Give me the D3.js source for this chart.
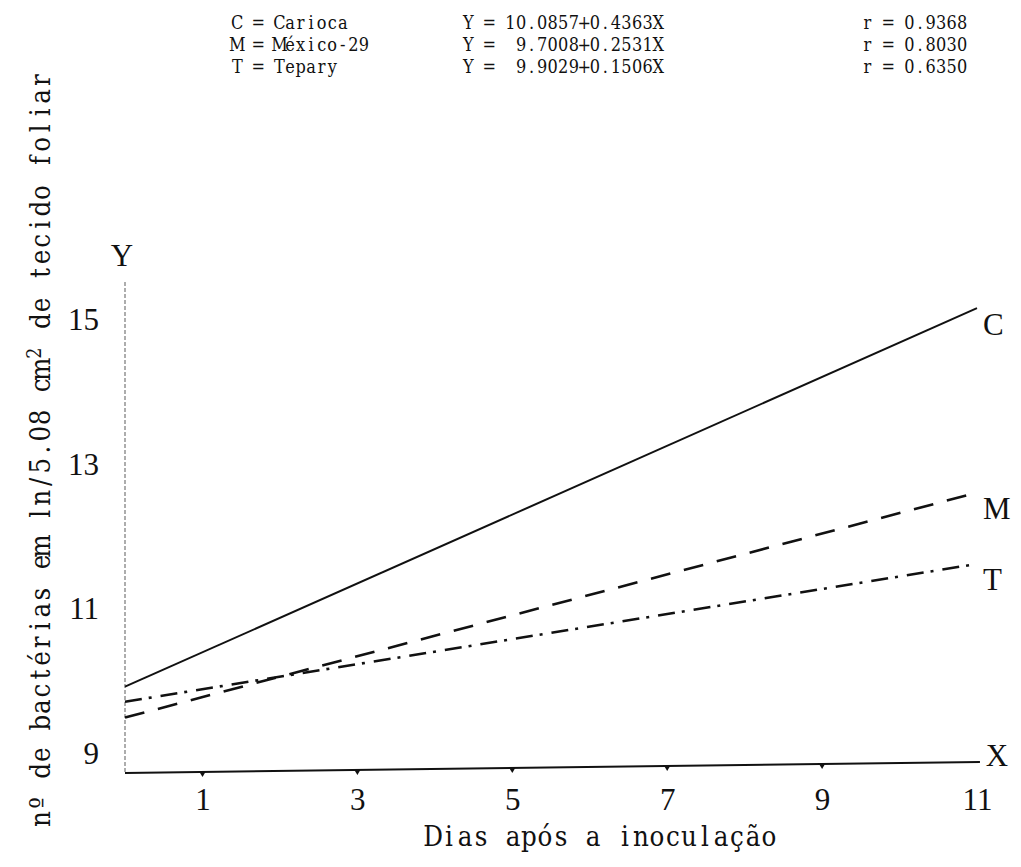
<!DOCTYPE html>
<html><head><meta charset="utf-8">
<script src="https://cdn.jsdelivr.net/npm/d3@7"></script>
<style>
html,body{margin:0;padding:0;background:#fff;}
svg{display:block;}
text{white-space:pre;}
.tw{font-family:"DejaVu Serif",serif;fill:#111;}
.sf{font-family:"Liberation Serif",serif;fill:#111;}
</style>
</head><body>
<svg id="chart" width="1021" height="867"></svg>
<script>
// ---- data ----
const days = [0, 11];
const carioca = [10.09, 14.87];
const mexico = [9.70, 12.54];
const tepary = [9.90, 11.64];
const seriesCodes = ["C", "M", "T"];
const seriesNames = ["Carioca", "México-29", "Tepary"];
const equations = ["Y = 10.0857+0.4363X", "Y =  9.7008+0.2531X", "Y =  9.9029+0.1506X"];
const rValues = ["r = 0.9368", "r = 0.8030", "r = 0.6350"];
const xTicks = [1, 3, 5, 7, 9, 11];
const yTicks = [9, 11, 13, 15];
const xTitle = "Dias após a inoculação";
const yTitleA = "nº de bactérias em ln/5.08 cm";
const yTitleSup = "2";
const yTitleB = " de tecido foliar";

const svg = d3.select("#chart");
const x = d3.scaleLinear().domain([0, 11]).range([125, 977]);
const y = d3.scaleLinear().domain([9, 15.2]).range([773, 282]);
// typed tick labels sit slightly off the drawn grid
const yLab = d3.scaleLinear().domain([9, 15]).range([753, 319]);

const series = [
  {code: "C", values: carioca, dash: null, width: 2},
  {code: "M", values: mexico, dash: "20,14", width: 2.6},
  {code: "T", values: tepary, dash: "17,7,3,9", width: 2.6}
];

// typewriter-like text: every character centred in a fixed-pitch cell
function typeText(parent, x0, y0, size, sx, rotate) {
  return parent.append("text").attr("class", "tw").attr("font-size", size)
    .attr("text-anchor", "middle")
    .attr("transform", `translate(${x0}, ${y0})${rotate ? " rotate(" + rotate + ")" : ""} scale(${sx}, 1)`);
}
function cellXs(str, startCell, cell, sx) {
  return Array.from(str).map((c, i) => ((startCell + i + 0.5) * cell / sx).toFixed(2)).join(" ");
}

// ---- y axis (faint dotted) ----
svg.append("line")
  .attr("x1", x(0)).attr("x2", x(0))
  .attr("y1", y(15.2)).attr("y2", y(9))
  .attr("stroke", "#777").attr("stroke-width", 1.2)
  .attr("stroke-dasharray", "4,2");

// ---- x axis (slightly tilted hand-drawn line) ----
const xAxisG = svg.append("g")
  .attr("transform", `rotate(-0.74, ${x(0)}, ${y(9)})`);
xAxisG.append("line")
  .attr("x1", x(0)).attr("x2", x(11) + 3)
  .attr("y1", y(9)).attr("y2", y(9))
  .attr("stroke", "#111").attr("stroke-width", 2);
xAxisG.selectAll("path.tk").data(xTicks.slice(0, 5)).join("path")
  .attr("class", "tk")
  .attr("d", d => `M${x(d) - 3},${y(9)} L${x(d) + 3},${y(9)} L${x(d)},${y(9) + 5} Z`)
  .attr("fill", "#111");

// x tick labels
svg.append("g").attr("transform", `translate(0, ${y(9) + 37})`)
  .call(d3.axisBottom(x).tickValues(xTicks).tickSize(0).tickPadding(0).tickFormat(d3.format("d")))
  .call(g => g.select(".domain").remove())
  .call(g => g.selectAll("text").attr("class", "sf").attr("font-size", 31).attr("dy", 0).attr("fill", "#111"));

// y tick labels
svg.append("g").attr("transform", "translate(99, 0)")
  .call(d3.axisLeft(yLab).tickValues(yTicks).tickSize(0).tickPadding(0).tickFormat(d3.format("d")))
  .call(g => g.select(".domain").remove())
  .call(g => g.selectAll("text").attr("class", "sf").attr("font-size", 31).attr("dy", "0.34em").attr("fill", "#111"));

// ---- lines ----
const line = d3.line().x((d, i) => x(days[i])).y(d => y(d));
svg.selectAll("path.series").data(series).join("path")
  .attr("class", "series")
  .attr("d", d => line(d.values))
  .attr("fill", "none").attr("stroke", "#111")
  .attr("stroke-width", d => d.width)
  .attr("stroke-dasharray", d => d.dash);

// series end labels
svg.selectAll("text.code").data(series).join("text")
  .attr("class", "code sf")
  .attr("x", x(11) + 6)
  .attr("y", d => y(d.values[1]) + 16)
  .attr("dy", "0.34em")
  .attr("font-size", 31)
  .text(d => d.code);

// axis letters
svg.append("text").attr("class", "sf").attr("font-size", 31)
  .attr("x", x(0) - 3).attr("y", y(15.2) - 27).attr("dy", "0.34em")
  .attr("text-anchor", "middle").text("Y");
svg.append("text").attr("class", "sf").attr("font-size", 31)
  .attr("x", x(11) + 20).attr("y", y(9) - 18).attr("dy", "0.34em")
  .attr("text-anchor", "middle").text("X");

// ---- titles ----
const titleSx = 0.88, titleSize = 28;
typeText(svg, 425, 846, titleSize, titleSx)
  .attr("x", cellXs(xTitle, 0, 16, titleSx))
  .text(xTitle);

const yCell = 16.06;
const yt = typeText(svg, 50, 827, titleSize, titleSx, -90);
yt.append("tspan").attr("x", cellXs(yTitleA, 0, yCell, titleSx)).text(yTitleA);
yt.append("tspan").attr("font-size", 20).attr("dy", -9)
  .attr("x", cellXs(yTitleSup, yTitleA.length, yCell, titleSx)).text(yTitleSup);
yt.append("tspan").attr("font-size", titleSize).attr("dy", 9)
  .attr("x", cellXs(yTitleB, yTitleA.length + 1, yCell, titleSx)).text(yTitleB);

// ---- legend ----
const legCell = 10.55, legSx = 0.86, legSize = 18.8;
const legendRows = seriesCodes.map((c, i) => ({name: `${c} = ${seriesNames[i]}`, eq: equations[i], r: rValues[i]}));
legendRows.forEach((row, i) => {
  const by = 29 + i * 22;
  [[232, row.name], [463, row.eq], [862, row.r]].forEach(([cx, str]) => {
    typeText(svg, cx, by, legSize, legSx)
      .attr("x", cellXs(str, 0, legCell, legSx))
      .text(str);
  });
});
</script>
</body></html>
